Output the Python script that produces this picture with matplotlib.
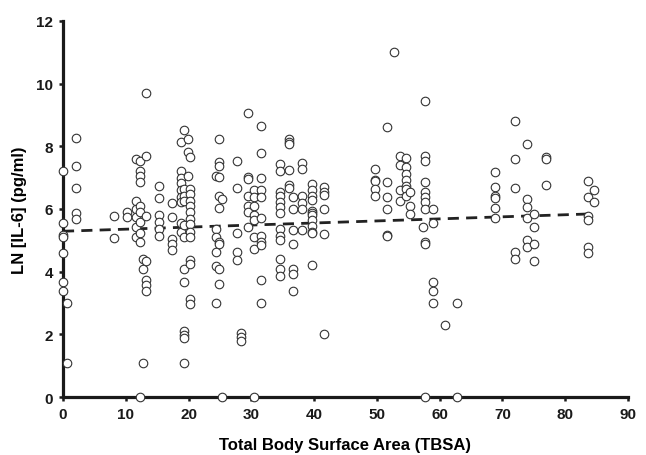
import numpy as np
import matplotlib.pyplot as plt

plt.rcParams['font.family'] = ['Liberation Sans', 'DejaVu Sans']

# TBSA column -> LN[IL-6] values
columns = [
    (0.0, [7.22, 5.54, 5.17, 5.1, 4.6, 3.68, 3.39]),
    (0.6, [2.99, 1.1]),
    (2.1, [8.27, 7.36, 6.66, 5.87, 5.68]),
    (8.2, [5.79, 5.06]),
    (10.2, [5.9, 5.73]),
    (11.7, [7.6, 6.27, 6.0, 5.73, 5.41, 5.1]),
    (12.3, [7.54, 7.22, 7.06, 6.87, 6.11, 5.9, 5.57, 5.23, 4.94, 0.0]),
    (12.8, [4.4, 4.09, 1.1]),
    (13.3, [9.69, 7.7, 5.79, 4.35, 3.72, 3.56, 3.39]),
    (15.3, [6.72, 6.34, 5.81, 5.58, 5.36, 5.15]),
    (17.3, [6.19, 5.73, 5.04, 4.88, 4.7]),
    (18.8, [8.15, 7.22, 7.0, 6.83, 6.6, 6.37, 6.23, 5.55, 5.27]),
    (19.3, [8.53, 6.64, 6.4, 6.27, 5.5, 5.1, 4.09, 3.68, 2.12, 1.98, 1.9, 1.1]),
    (19.9, [8.23, 7.81, 7.06]),
    (20.3, [7.65, 6.64, 6.48, 6.27, 6.09, 5.9, 5.68, 5.52, 5.27, 5.1, 4.37, 4.24, 3.13, 2.97]),
    (24.4, [7.06, 5.36, 5.1, 4.62, 4.19, 2.99]),
    (24.8, [8.23, 7.5, 7.37, 7.02, 6.42, 6.03, 4.94, 4.88, 4.09, 3.61]),
    (25.4, [6.32, 0.0]),
    (27.8, [7.54, 6.68, 5.23, 4.62, 4.38]),
    (28.3, [2.06, 1.93, 1.8]),
    (29.4, [9.06, 7.01, 6.95, 6.4, 6.08, 5.91, 5.41]),
    (30.4, [0.0]),
    (30.5, [6.6, 6.37, 6.08, 5.8, 5.64, 5.1, 4.73]),
    (31.5, [8.64, 7.78, 6.98, 6.6, 6.37, 5.7, 5.13, 4.96, 4.85, 3.75, 3.0]),
    (34.6, [7.44, 7.21, 6.53, 6.4, 6.23, 6.05, 5.87, 5.36, 5.13, 5.02, 4.4, 4.09, 3.87]),
    (36.0, [8.23, 8.15, 8.06, 7.25, 6.76, 6.67]),
    (36.7, [6.37, 6.0, 5.34, 4.88, 4.09, 3.93, 3.39]),
    (38.0, [7.46, 7.28, 6.4, 6.19, 6.0, 5.34]),
    (39.7, [6.8, 6.6, 6.4, 6.3, 5.95, 5.87, 5.8, 5.64, 5.47, 5.27, 5.22, 4.21]),
    (41.6, [6.69, 6.55, 6.45, 6.0, 5.2, 2.0]),
    (49.7, [7.28, 6.94, 6.88, 6.64, 6.4]),
    (51.6, [8.61, 6.85, 6.37, 6.0, 5.17, 5.15]),
    (52.7, [11.0]),
    (53.7, [7.7, 7.4, 6.62, 6.27]),
    (54.6, [7.62, 7.33, 7.12, 6.94, 6.72, 6.64, 6.4]),
    (55.3, [6.55, 6.11, 5.84]),
    (57.3, [5.44]),
    (57.6, [9.43, 7.7, 7.54, 6.87, 6.53, 6.37, 6.23, 6.0, 4.94, 4.88, 0.0]),
    (59.0, [6.0, 5.55, 3.68, 3.39, 2.99]),
    (60.8, [2.31]),
    (62.8, [2.99, 0.0]),
    (68.9, [7.17, 6.69, 6.4, 6.34, 6.03, 5.7]),
    (72.0, [8.81, 7.6, 6.66, 4.64, 4.4]),
    (73.9, [8.07, 6.32, 6.05, 5.7, 5.0, 4.78]),
    (75.0, [5.84, 5.41, 4.88, 4.33]),
    (76.9, [7.65, 7.58, 6.75]),
    (83.6, [6.88, 6.37, 5.79, 5.66, 4.78, 4.6]),
    (84.6, [6.61, 6.23]),
]

fit_x = [0, 83.6]
fit_y = [5.29, 5.84]

x = []
y = []
for tbsa, vals in columns:
    for v in vals:
        x.append(tbsa)
        y.append(v)

fig = plt.figure(figsize=(6.46, 4.56), dpi=100)
ax = fig.add_axes([0.0975, 0.127, 0.8745, 0.825])

ax.plot(fit_x, fit_y, color='#222222', linestyle=(0, (4, 2.6)), linewidth=2.0, zorder=2)
ax.scatter(x, y, s=38, facecolors='white', edgecolors='#333333', linewidths=0.8,
           zorder=5, clip_on=False)

ax.set_xlim(0, 90)
ax.set_ylim(0, 12)
ax.set_xticks(np.arange(0, 91, 10))
ax.set_yticks(np.arange(0, 13, 2))

for s in ['top', 'right']:
    ax.spines[s].set_visible(False)
for s in ['left', 'bottom']:
    ax.spines[s].set_linewidth(2.3)
    ax.spines[s].set_color('#1a1a1a')
    ax.spines[s].set_zorder(3)

ax.tick_params(direction='out', length=3, width=1.8, labelsize=11, pad=4, colors='#1a1a1a')
for lab in ax.get_xticklabels() + ax.get_yticklabels():
    lab.set_fontweight('bold')

ax.set_xlabel('Total Body Surface Area (TBSA)', fontsize=12, fontweight='bold', labelpad=12)
ax.set_ylabel('LN [IL-6] (pg/ml)', fontsize=12, fontweight='bold', labelpad=7)

fig.savefig('out.png', dpi=100)
